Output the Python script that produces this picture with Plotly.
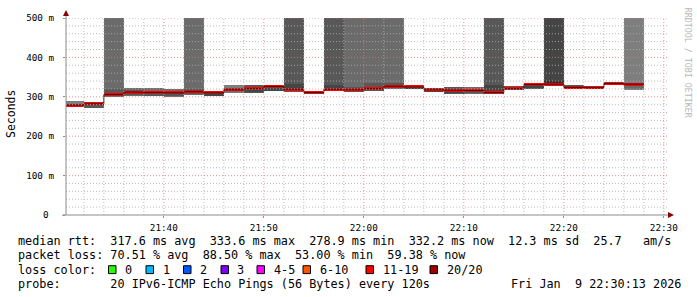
import plotly.graph_objects as go
from datetime import datetime, timedelta

# ---------------- data ----------------
PINGS = 20
STEP_S = 120
first_step = datetime(2026, 1, 9, 21, 30, 0)
view_start = datetime(2026, 1, 9, 21, 30, 13)
view_end = datetime(2026, 1, 9, 22, 30, 13)

median_ms = [278.9, 282, 306, 312, 311, 310, 313, 310, 318, 321, 326, 319, 311, 319, 318,
             321, 327, 325, 318, 317, 316, 311, 321, 331, 332, 324, 323, 333.6, 332.2]
loss_pct = [53, 62, 65, 65, 65, 60, 65, 75, 55, 70, 78, 75, 87, 75, 60,
            65, 65, 75, 75, 70, 65, 75, 75, 70, 88.5, 75, 80, 85, 59.38]
smoke_lo = [276, 271, 300, 303, 301, 299, 305, 301, 310, 310, 314, 313, 308, 314, 311,
            315, 321, 320, 311, 308, 308, 306, 317, 321, 328, 321, 321, 330, 318]
smoke_hi = [290, 285, 650, 323, 322, 321, 650, 315, 329, 330, 331, 650, 314, 650, 650,
            650, 650, 331, 322, 325, 325, 650, 328, 336, 650, 330, 327, 335, 650]
core_lo = [277, 272, 301, 305, 303, 301, 307, 303, 311, 312, 316, 314, 309, 315, 312,
           316, 322, 321, 313, 310, 310, 307, 318, 322, 329, 322, 321, 330, 319]
core_hi = [283, 284, 319, 318, 316, 315, 320, 312, 322, 326, 328, 333, 313, 330, 325,
           334, 335, 329, 321, 320, 320, 330, 325, 334, 340, 328, 326, 334, 327]

loss_labels = ["0", "1", "2", "3", "4-5", "6-10", "11-19", "20/20"]
loss_lower = [-1, 0, 1, 2, 3, 5, 10, 19]
loss_upper = [0, 1, 2, 3, 5, 10, 19, 20]
loss_colors = ["#26ff00", "#00b8ff", "#0059ff", "#7e00ff", "#ff00ff", "#ff5500", "#ff0000", "#a10000"]

y_tickvals = [0, 100, 200, 300, 400, 500]
y_ticktext = ["0\u00a0", "100 m", "200 m", "300 m", "400 m", "500 m"]

stat_rtt = ["317.6 ms avg", "333.6 ms max", "278.9 ms min", "332.2 ms now", "12.3 ms sd", "25.7   am/s"]
stat_loss = ["70.51 % avg", "88.50 % max", "53.00 % min", "59.38 % now"]
probe_text = "20 IPv6-ICMP Echo Pings (56 Bytes) every 120s"
stamp_text = "Fri Jan  9 22:30:13 2026"

# ---------------- helpers ----------------
FONT = "DejaVu Sans Mono"
W, H = 697, 297
L, T = 66, 15
PW, PH = 600, 200
B = H - T - PH
R = W - L - PW
Y_MAX = 500


def px(xp):
    return (xp - L) / PW


def py(yp):
    return (T + PH - yp) / PH


def nb(s):
    return s.replace(" ", "\u00a0")


def shade(lpct, extra=0):
    lost = lpct / 100 * PINGS
    half = PINGS / 2
    ibot = int(lost // 2) + 1 + extra
    ibot = min(ibot, int(half))
    g = int(190 / half * (half - ibot)) + 50
    return "#" + ("%02x" % g) * 3


def loss_color(lpct):
    lost = lpct / 100 * PINGS
    for lo, up, c in zip(loss_lower, loss_upper, loss_colors):
        if lost > lo and lost <= up:
            return c
    return loss_colors[-1]


starts = [first_step + timedelta(seconds=STEP_S * i) for i in range(len(median_ms))]
end_last = starts[-1] + timedelta(seconds=STEP_S)
wms = STEP_S * 1000

fig = go.Figure()

# outer smoke
fig.add_trace(go.Bar(
    x=starts, y=[h - l for h, l in zip(smoke_hi, smoke_lo)], base=smoke_lo,
    width=[wms] * len(starts), offset=0,
    marker=dict(color=[shade(v) for v in loss_pct], line=dict(width=0)),
    hoverinfo="skip", showlegend=False))
# inner smoke
fig.add_trace(go.Bar(
    x=starts, y=[h - l for h, l in zip(core_hi, core_lo)], base=core_lo,
    width=[wms] * len(starts), offset=0,
    marker=dict(color=[shade(v, 1) for v in loss_pct], line=dict(width=0)),
    hoverinfo="skip", showlegend=False))
# thin median line
fig.add_trace(go.Scatter(
    x=starts + [end_last], y=median_ms + [median_ms[-1]], mode="lines",
    line=dict(color="#202020", width=1, shape="hv"),
    hoverinfo="skip", showlegend=False))
# loss coloured median band
sw = 3.75
fig.add_trace(go.Bar(
    x=starts, y=[2 * sw] * len(starts), base=[m - sw for m in median_ms],
    width=[wms] * len(starts), offset=0,
    marker=dict(color=[loss_color(v) for v in loss_pct], line=dict(width=0)),
    hoverinfo="skip", showlegend=False))

shapes = []
minor_col = "rgba(175,175,175,0.85)"
major_col = "rgba(225,120,120,0.8)"
dash = "1px,2px"
# vertical grid
t = first_step + timedelta(minutes=2)
while t <= view_end:
    major = (t.minute % 10 == 0)
    shapes.append(dict(type="line", xref="x", yref="paper", x0=t, x1=t, y0=0, y1=1,
                       layer="above", line=dict(color=major_col if major else minor_col, width=1, dash=dash)))
    t += timedelta(minutes=2)
# horizontal grid
for v in range(20, Y_MAX + 1, 20):
    major = (v % 100 == 0)
    shapes.append(dict(type="line", xref="paper", yref="y", x0=0, x1=px(W - R + 3), y0=v, y1=v,
                       layer="above", line=dict(color=major_col if major else minor_col, width=1, dash=dash)))
# axis lines
axis_col = "#8c8c8c"
shapes.append(dict(type="line", xref="paper", yref="paper", x0=0, x1=0, y0=0, y1=py(9),
                   layer="above", line=dict(color=axis_col, width=1)))
shapes.append(dict(type="line", xref="paper", yref="paper", x0=px(62), x1=px(669), y0=0, y1=0,
                   layer="above", line=dict(color=axis_col, width=1)))
arrow_col = "#8b0000"
shapes.append(dict(type="path", xref="paper", yref="paper", layer="above",
                   path="M %f %f L %f %f L %f %f Z" % (px(63), py(13), px(69), py(13), px(66), py(7)),
                   fillcolor=arrow_col, line=dict(color=arrow_col, width=0)))
shapes.append(dict(type="path", xref="paper", yref="paper", layer="above",
                   path="M %f %f L %f %f L %f %f Z" % (px(668), py(212), px(668), py(218), px(674), py(215)),
                   fillcolor=arrow_col, line=dict(color=arrow_col, width=0)))

annotations = []
# y axis unit
annotations.append(dict(x=px(10.5), y=py(113), xref="paper", yref="paper", text="Seconds",
                        textangle=-90, showarrow=False, font=dict(family=FONT, size=11.5, color="#000"),
                        xanchor="center", yanchor="middle"))
# watermark
annotations.append(dict(x=px(687.5), y=py(60), xref="paper", yref="paper", text=nb("RRDTOOL / TOBI OETIKER"),
                        textangle=90, showarrow=False, font=dict(family=FONT, size=8.3, color="#b8b8b8"),
                        xanchor="center", yanchor="middle"))

LEG_FS = 11.8
CW = 7.1
X0 = 16
rows = [241, 256, 270.5, 285]
line1 = "median rtt:  " + "  ".join(stat_rtt)
line2 = "packet loss: " + "  ".join(stat_loss)
annotations.append(dict(x=px(X0), y=py(rows[0]), xref="paper", yref="paper", text=nb(line1), showarrow=False,
                        font=dict(family=FONT, size=LEG_FS, color="#000"), xanchor="left", yanchor="middle"))
annotations.append(dict(x=px(X0), y=py(rows[1]), xref="paper", yref="paper", text=nb(line2), showarrow=False,
                        font=dict(family=FONT, size=LEG_FS, color="#000"), xanchor="left", yanchor="middle"))
annotations.append(dict(x=px(X0), y=py(rows[2]), xref="paper", yref="paper", text=nb("loss color:"), showarrow=False,
                        font=dict(family=FONT, size=LEG_FS, color="#000"), xanchor="left", yanchor="middle"))
annotations.append(dict(x=px(X0), y=py(rows[3]), xref="paper", yref="paper", text=nb("probe:       " + probe_text),
                        showarrow=False, font=dict(family=FONT, size=LEG_FS, color="#000"),
                        xanchor="left", yanchor="middle"))
annotations.append(dict(x=px(683), y=py(rows[3]), xref="paper", yref="paper", text=nb(stamp_text),
                        showarrow=False, font=dict(family=FONT, size=LEG_FS, color="#000"),
                        xanchor="right", yanchor="middle"))

# loss colour legend boxes
box_x = [108.5, 146, 183.5, 221, 257, 303, 366, 430]
for bx, lab, col in zip(box_x, loss_labels, loss_colors):
    shapes.append(dict(type="rect", xref="paper", yref="paper",
                       x0=px(bx), x1=px(bx + 7.5), y0=py(rows[2] + 4), y1=py(rows[2] - 4),
                       fillcolor=col, line=dict(color="#000", width=1)))
    annotations.append(dict(x=px(bx + 14.5), y=py(rows[2]), xref="paper", yref="paper", text=lab,
                            showarrow=False, font=dict(family=FONT, size=LEG_FS, color="#000"),
                            xanchor="left", yanchor="middle"))

fig.update_layout(
    width=W, height=H,
    margin=dict(l=L, r=R, t=T, b=B, pad=0),
    paper_bgcolor="#ffffff", plot_bgcolor="#ffffff",
    barmode="overlay", bargap=0,
    shapes=shapes, annotations=annotations,
    showlegend=False,
    xaxis=dict(type="date", range=[view_start, view_end], showgrid=False, zeroline=False,
               tickformat="%H:%M", dtick=600000, tick0="2026-01-09 21:40:00",
               ticks="outside", ticklen=2, tickcolor=axis_col, showline=False,
               tickfont=dict(family=FONT, size=9.3, color="#000"), ticklabelstandoff=2),
    yaxis=dict(range=[0, Y_MAX], showgrid=False, zeroline=False, tickvals=y_tickvals, ticktext=y_ticktext,
               ticks="outside", ticklen=2, tickcolor=axis_col, showline=False,
               tickfont=dict(family=FONT, size=9.3, color="#000"), ticklabelstandoff=7),
)

fig.write_html("out.html")
